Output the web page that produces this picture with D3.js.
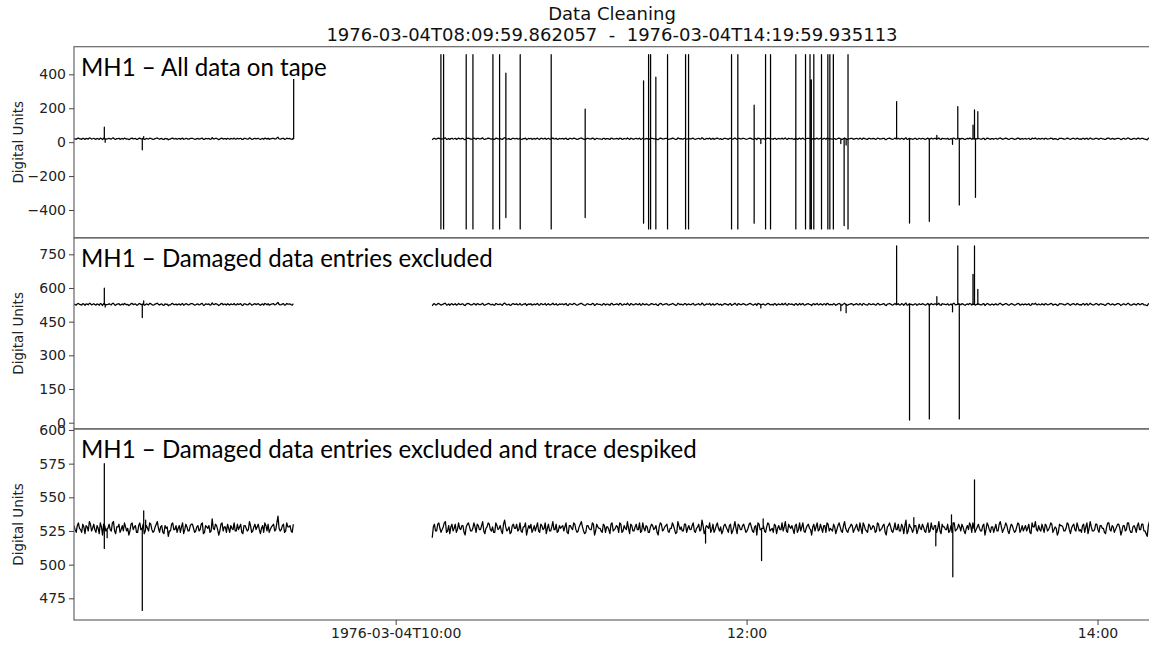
<!DOCTYPE html>
<meta charset="utf-8">
<style> /* chart styles */

body { margin: 0; background: #fff; }

.trace {
  fill: none;
  stroke: #000;
  stroke-width: 1.25px;
  stroke-linejoin: round;
}

.frame {
  fill: none;
  stroke: #666;
  stroke-width: 1.2px;
}

.axis text {
  font-family: "DejaVu Sans", sans-serif;
  font-size: 14px;
  fill: #222;
}

.axis line { stroke: #444; }
.axis path { display: none; }

.title {
  font-family: "DejaVu Sans", sans-serif;
  font-size: 18px;
  fill: #111;
  white-space: pre;
}

</style>
<body>

<!-- load the d3.js library -->
<script src="https://d3js.org/d3.v7.min.js"></script>
<script>

// ---- data ----
var day = "1976-03-04";
var traceStart = "08:09:59.862057";
var traceEnd = "14:19:59.935113";

// two recorded stretches, one sample every 45 s (deviation from the baseline)
// plus the in-between samples (at +22.5 s)
var segAStart = "08:10:00";
var segBStart = "10:12:30";
var stepSec = 45;

var noiseA = [
  2,-3,4,-1,3,-4,1,5,-2,3,-3,0,4,-5,2,-1,3,-2,5,-4,
  1,-3,2,4,-2,-5,3,-1,2,-3,4,0,-4,2,-2,3,-3,1,5,-3,
  2,-4,0,-6,-2,4,-1,-3,2,1,-4,3,-2,2,3,-3,1,-2,3,-4,
  2,0,-3,7,-1,2,-5,3,-2,1,3,-3,0,4,-2,-1,3,-4,2,-2,
  5,-3,1,-1,3,-4,2,4,-2,-3,1,3,-1,9,-2,2,-3,4,1,-2,3
];

var noiseAmid = [
  -1,2,0,-3,1,2,-2,3,0,-1,2,-4,1,3,-2,0,-1,4,-2,1,
  3,-1,-2,1,0,-2,4,1,-3,2,-1,3,-2,0,4,-1,-2,3,0,1,
  -3,2,1,-2,3,-1,2,0,-3,4,-1,1,-2,3,0,-2,2,-1,4,-3,
  1,2,-2,0,3,-1,-2,4,1,-3,0,2,-1,-2,3,1,-3,2,0,-1,
  2,-2,3,1,-1,0,-3,2,3,-1,2,-2,4,0,-1,3,-2,1,2,-3
];

var noiseB = [
  -7,3,-2,4,-3,1,5,-2,-4,3,0,-3,4,-1,2,-5,3,1,-2,4,
  -3,2,-1,5,-4,1,3,-2,-3,4,-1,2,-4,6,-2,1,-3,3,0,-2,
  4,-3,1,-5,2,3,-1,-2,4,-3,2,0,-4,3,-2,5,-1,-3,2,1,
  -2,4,-4,2,-1,3,-3,1,5,-2,-3,2,-1,4,-5,3,0,-2,3,-3,
  1,-4,4,-1,2,-3,3,-2,0,5,-4,2,-2,3,-1,-3,4,-2,1,-3,
  3,-1,2,-5,4,-2,1,3,-3,0,2,-4,5,-1,-2,3,-3,2,-1,4,
  -3,1,-2,6,-4,2,0,-3,3,-1,4,-2,-4,2,1,-3,3,-2,5,-4,
  2,-1,3,-3,0,4,-2,1,-5,3,-1,2,-3,4,-2,0,3,-4,2,-1,
  -2,5,-3,1,2,-4,3,-1,-2,4,-3,2,0,-5,3,1,-2,3,-3,2,
  4,-2,-1,3,-4,2,1,-3,5,-2,0,3,-3,1,-1,4,-4,2,-2,3,
  -1,2,-3,4,-2,0,3,-5,2,1,-3,4,-1,-2,3,-4,6,-2,1,-3,
  2,-4,3,-1,1,-3,4,-2,0,2,-3,5,-4,1,-1,3,-2,-3,4,-1,
  3,-2,1,-4,2,4,-3,0,-1,3,-2,2,-5,4,-1,1,-3,3,-2,5,
  -3,1,2,-4,3,-1,-2,4,-3,2,0,-2,3,-4,1,5,-2,-1,3,-3,
  2,-1,4,-3,1,-5,3,2,-2,0,3,-4,2,-1,4,-2,-3,3,1,-4,
  5,-2,-1,3,-3,2,0,-4,4,-1,2,-3,1,3,-5,2,-2,4,-1,-3,
  2,-3,4,-1,3,-2,-6,5,1,-2,4
];

var noiseBmid = [
  1,-2,3,0,-1,4,-3,2,1,-2,3,-1,0,2,-3,1,4,-2,0,1,
  3,-1,2,-2,0,4,-1,1,-3,2,0,-2,3,1,-1,-4,2,0,3,-1,
  -2,1,4,-1,0,-3,2,1,-2,3,-1,4,0,-2,1,-1,3,-2,0,2,
  1,-3,2,0,4,-1,-2,3,1,-4,2,0,-1,3,-2,1,0,-3,2,1,
  -1,3,-2,0,1,4,-3,2,-1,0,3,-2,1,-1,4,-2,0,2,-3,1,
  2,0,-3,1,3,-1,2,-2,0,4,-1,-3,2,1,-2,3,0,-1,2,-2,
  0,3,-1,2,-2,1,4,-1,-3,2,0,1,-2,3,-1,2,-4,1,0,3,
  -1,2,0,-2,3,1,-3,2,4,-1,0,-2,1,3,-1,-3,2,0,-1,4,
  1,-2,3,0,-1,2,-3,4,1,-2,0,3,-1,1,-2,4,-1,0,2,-3,
  3,0,-2,1,-1,4,-2,2,0,-3,1,2,-1,3,-2,0,4,-1,-3,2,
  0,1,-2,3,-1,2,-3,1,4,-2,0,-1,3,-2,1,2,-4,3,0,-1,
  2,-1,0,3,-2,1,-3,4,-1,2,0,-2,3,1,-1,-3,2,4,-2,0,
  1,3,-2,0,-1,2,4,-3,1,0,-2,3,-1,2,-3,1,0,-2,3,1,
  -1,4,-2,0,2,-3,1,3,-1,-2,2,0,-3,4,1,-1,2,-2,0,3,
  -2,1,3,-1,0,-3,2,1,-2,4,-1,0,3,-2,1,-1,2,-3,4,0,
  1,-2,3,-1,2,0,-3,1,4,-2,1,-1,3,0,-2,2,-1,4,-3,1,
  0,2,-1,3,-2,-4,2,-1,0,3
];

// baseline level of each panel
var baseP1 = 20;
var baseP23 = 527;

// extra samples: [time, value, value...] (drawn as a vertical stroke from the baseline)
var spikesP1 = [
  ["08:20:22", 88], ["08:20:40", 0],
  ["08:33:21", -45], ["08:33:50", 33],
  ["09:25:07", 372],
  ["10:15:28", 516, -512], ["10:16:23", 516, -512],
  ["10:24:07", 516, -512], ["10:26:25", 516, -512],
  ["10:33:15", 516, -512], ["10:35:32", 516, -512],
  ["10:37:41", 407, -445], ["10:42:35", 516, -512],
  ["10:53:11", 516, -512], ["11:04:48", 195, -445],
  ["11:24:46", 361, -478], ["11:26:29", 516, -512],
  ["11:27:10", 516, -512], ["11:28:58", 383, -512],
  ["11:32:58", 516, -512], ["11:39:08", 516, -512],
  ["11:40:09", 516, -512], ["11:54:51", 516, -512],
  ["11:57:00", 516, -512], ["12:02:35", 218, -478],
  ["12:04:52", -8],
  ["12:06:29", 516, -512], ["12:08:11", 516, -512],
  ["12:16:50", 516, -512], ["12:20:09", 516, -512],
  ["12:21:41", 516, -512], ["12:22:08", 367, -512],
  ["12:22:59", 516, -512], ["12:25:37", 516, -512],
  ["12:27:47", 516, -512], ["12:28:28", 516, -512],
  ["12:29:40", 516, -512],
  ["12:32:13", -8], ["12:33:21", -492], ["12:34:02", -17],
  ["12:34:41", 516, -512],
  ["12:51:18", 239], ["12:55:43", -477], ["13:02:29", -467],
  ["13:05:03", 40], ["13:10:25", -13],
  ["13:12:13", 210], ["13:12:44", -370],
  ["13:17:25", 100], ["13:17:56", 190], ["13:18:16", -325], ["13:19:04", 180]
];

var spikesP2 = [
  ["08:20:22", 599], ["08:20:40", 515],
  ["08:33:21", 468], ["08:33:50", 543],
  ["12:04:52", 511],
  ["12:32:13", 499], ["12:34:02", 490],
  ["12:51:18", 787], ["12:55:43", 12], ["13:02:29", 17],
  ["13:05:03", 561], ["13:10:25", 494],
  ["13:12:13", 787], ["13:12:44", 17],
  ["13:17:25", 661], ["13:17:56", 787], ["13:19:04", 594]
];

var spikesP3 = [
  ["08:20:22", 575, 512], ["08:21:20", 520],
  ["08:33:21", 466], ["08:33:50", 540], ["08:34:30", 533],
  ["11:45:58", 516],
  ["12:05:07", 503], ["12:05:40", 534],
  ["12:57:11", 535],
  ["13:04:42", 514],
  ["13:10:04", 537], ["13:10:31", 491],
  ["13:17:56", 563]
];

var panelTitles = [
  "MH1 \u2013 All data on tape",
  "MH1 \u2013 Damaged data entries excluded",
  "MH1 \u2013 Damaged data entries excluded and trace despiked"
];

var yTicks1 = [-400, -200, 0, 200, 400];
var yTicks2 = [0, 150, 300, 450, 600, 750];
var yTicks3 = [475, 500, 525, 550, 575, 600];
var yLimits1 = [-564, 563];
var yLimits2 = [-27.6, 823.5];
var yLimits3 = [458.9, 600.8];

var xTicks = ["10:00", "12:00", "14:00"];
var xTickLabels = ["1976-03-04T10:00", "12:00", "14:00"];

var titleLine1 = "Data Cleaning";
var titleLine2 = "1976-03-04T08:09:59.862057  -  1976-03-04T14:19:59.935113";
var yLabel = "Digital Units";

// ---- layout ----
var width = 1149, height = 646;
var left = 74, right = 1156;   // right edge is cut off by the picture
var top0 = 46.7, panelH = 191.1;

var parseFull = d3.timeParse("%Y-%m-%d %H:%M:%S.%f");
var parseTime = d3.timeParse("%Y-%m-%d %H:%M:%S");
var parseHM = d3.timeParse("%Y-%m-%d %H:%M");

var x = d3.scaleTime()
    .domain([parseFull(day + " " + traceStart), parseFull(day + " " + traceEnd)])
    .range([left, right]);

// build one stretch of trace: noise samples plus the spikes that fall inside it
function buildSeries(noise, mid, start, base, spikes) {
  var t0 = +parseTime(day + " " + start);
  var pts = [];
  noise.forEach(function(d, i) {
    pts.push([new Date(t0 + i * stepSec * 1000), base + d]);
  });
  mid.forEach(function(d, i) {
    pts.push([new Date(t0 + (i + 0.5) * stepSec * 1000), base + d]);
  });
  var t1 = t0 + (noise.length - 1) * stepSec * 1000 + 10000;
  spikes.forEach(function(s) {
    var t = +parseTime(day + " " + s[0]);
    if (t < t0 || t > t1) return;
    pts.push([new Date(t - 1), base]);
    for (var k = 1; k < s.length; k++) {
      pts.push([new Date(t + k), s[k]]);
    }
    if (t < t1 - 10000) pts.push([new Date(t + s.length), base]);
  });
  pts.sort(function(a, b) { return a[0] - b[0]; });
  return pts;
}

var panels = [
  {title: panelTitles[0], base: baseP1, spikes: spikesP1, dom: yLimits1, ticks: yTicks1},
  {title: panelTitles[1], base: baseP23, spikes: spikesP2, dom: yLimits2, ticks: yTicks2},
  {title: panelTitles[2], base: baseP23, spikes: spikesP3, dom: yLimits3, ticks: yTicks3}
];

var svg = d3.select("body").append("svg")
    .attr("width", width)
    .attr("height", height);

// size the panel captions so the longest one spans like in the picture
var probe = svg.append("text")
    .style("font-family", "Lato")
    .style("font-size", "100px")
    .text(panelTitles[2]);
var labelSize = 100 * 616 / probe.node().getComputedTextLength();
probe.remove();

panels.forEach(function(p, i) {
  var top = top0 + i * panelH;
  var y = d3.scaleLinear().domain(p.dom).range([top + panelH, top]);

  svg.append("clipPath").attr("id", "clip" + i)
    .append("rect")
      .attr("x", left).attr("y", top)
      .attr("width", right - left).attr("height", panelH);

  var line = d3.line()
      .x(function(d) { return x(d[0]); })
      .y(function(d) { return y(d[1]); });

  var segs = [
    buildSeries(noiseA, noiseAmid, segAStart, p.base, p.spikes),
    buildSeries(noiseB, noiseBmid, segBStart, p.base, p.spikes)
  ];

  var g = svg.append("g").attr("clip-path", "url(#clip" + i + ")");
  segs.forEach(function(s) {
    g.append("path")
      .datum(s)
      .attr("class", "trace")
      .attr("d", line);
  });

  // frame
  svg.append("rect")
      .attr("class", "frame")
      .attr("x", left).attr("y", top)
      .attr("width", right - left).attr("height", panelH);

  // Y axis
  svg.append("g")
      .attr("class", "axis")
      .attr("transform", "translate(" + left + ",0)")
      .call(d3.axisLeft(y).tickValues(p.ticks).tickSize(5).tickPadding(3)
        .tickFormat(d3.format("d")));

  svg.append("text")
      .attr("transform", "translate(18," + (top + panelH / 2) + ") rotate(-90)")
      .attr("text-anchor", "middle")
      .attr("dy", "0.35em")
      .style("font-family", "DejaVu Sans")
      .style("font-size", "13.5px")
      .style("fill", "#222")
      .text(yLabel);

  svg.append("text")
      .attr("x", 81)
      .attr("y", top + 29)
      .style("font-family", "Lato")
      .style("font-size", labelSize + "px")
      .style("fill", "#000")
      .text(p.title);
});

// X axis under the last panel
svg.append("g")
    .attr("class", "axis")
    .attr("transform", "translate(0," + (top0 + 3 * panelH) + ")")
    .call(d3.axisBottom(x)
      .tickValues(xTicks.map(function(d) { return parseHM(day + " " + d); }))
      .tickFormat(function(d, i) { return xTickLabels[i]; })
      .tickSize(5).tickPadding(3));

// title
svg.append("text")
    .attr("class", "title")
    .attr("x", 612).attr("y", 20)
    .attr("text-anchor", "middle")
    .text(titleLine1);

svg.append("text")
    .attr("class", "title")
    .attr("x", 612).attr("y", 41)
    .attr("text-anchor", "middle")
    .text(titleLine2);

</script>
</body>
